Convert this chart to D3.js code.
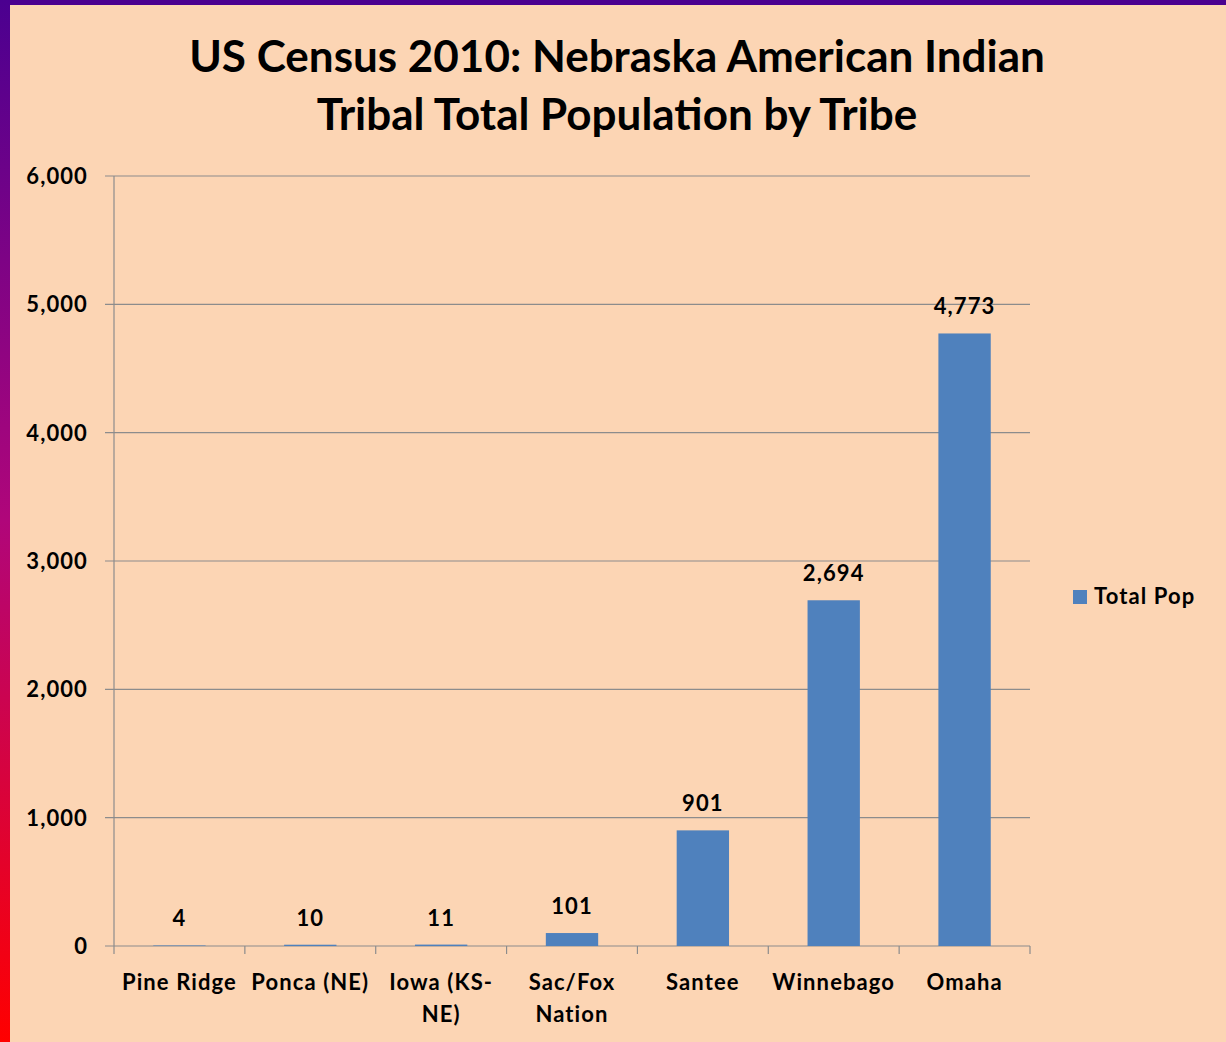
<!DOCTYPE html>
<html>
<head>
<meta charset="utf-8">
<script src="https://cdn.jsdelivr.net/npm/d3@7"></script>
<style>
  html, body { margin: 0; padding: 0; background: #fcd5b4; }
  svg { display: block; font-family: Lato, "Open Sans", sans-serif; font-weight: 700; }
  .small { font-size: 22px; letter-spacing: 1.1px; }
</style>
</head>
<body>
<svg id="chart" width="1226" height="1042"></svg>
<script>
// data
var tribes = ["Pine Ridge", "Ponca (NE)", "Iowa (KS-NE)", "Sac/Fox Nation", "Santee", "Winnebago", "Omaha"];
var tribeLines = [["Pine Ridge"], ["Ponca (NE)"], ["Iowa (KS-", "NE)"], ["Sac/Fox", "Nation"], ["Santee"], ["Winnebago"], ["Omaha"]];
var totalPop = [4, 10, 11, 101, 901, 2694, 4773];
var yTicks = [0, 1000, 2000, 3000, 4000, 5000, 6000];
var titleLines = ["US Census 2010: Nebraska American Indian", "Tribal Total Population by Tribe"];
var seriesName = "Total Pop";

function drawChart() {
  var width = 1226, height = 1042;
  var mLeft = 114, mRight = 1030, mTop = 176, mBottom = 946;
  var svg = d3.select("#chart");

  // frame: gradient strip on the left, purple strip on top
  var defs = svg.append("defs");
  var grad = defs.append("linearGradient").attr("id", "edge")
    .attr("x1", 0).attr("y1", 0).attr("x2", 0).attr("y2", 1);
  grad.append("stop").attr("offset", "0%").attr("stop-color", "#4b0090");
  grad.append("stop").attr("offset", "50%").attr("stop-color", "#b0067a");
  grad.append("stop").attr("offset", "100%").attr("stop-color", "#ff0000");

  svg.append("rect").attr("x", 0).attr("y", 0).attr("width", width).attr("height", height).attr("fill", "#fcd5b4");
  svg.append("rect").attr("x", 0).attr("y", 0).attr("width", width).attr("height", 5).attr("fill", "#4b0090");
  svg.append("rect").attr("x", 0).attr("y", 0).attr("width", 10).attr("height", height).attr("fill", "url(#edge)");

  var x = d3.scaleBand().domain(tribes).range([mLeft, mRight]).paddingInner(0.6).paddingOuter(0.3);
  var xb = d3.scaleBand().domain(tribes).range([mLeft, mRight]);
  var y = d3.scaleLinear().domain([0, 6000]).range([mBottom, mTop]);

  // gridlines
  svg.append("g").selectAll("line").data(yTicks).enter().append("line")
    .attr("x1", mLeft - 9).attr("x2", mRight)
    .attr("y1", function(d) { return y(d); }).attr("y2", function(d) { return y(d); })
    .attr("stroke", "#8c8c8c").attr("stroke-width", 1.2);

  // y axis line
  svg.append("line").attr("x1", mLeft).attr("x2", mLeft).attr("y1", mTop).attr("y2", mBottom)
    .attr("stroke", "#8c8c8c").attr("stroke-width", 1.2);

  // y tick labels
  svg.append("g").selectAll("text").data(yTicks).enter().append("text")
    .attr("class", "small")
    .attr("x", 88).attr("y", function(d) { return y(d) + 8; })
    .attr("text-anchor", "end").attr("fill", "#000")
    .text(function(d) { return d3.format(",")(d); });

  // x tick marks at category boundaries
  var bounds = tribes.map(function(t) { return xb(t); }).concat([mRight]);
  svg.append("g").selectAll("line").data(bounds).enter().append("line")
    .attr("x1", function(d) { return d; }).attr("x2", function(d) { return d; })
    .attr("y1", mBottom).attr("y2", mBottom + 8)
    .attr("stroke", "#8c8c8c").attr("stroke-width", 1.2);

  // bars
  svg.append("g").selectAll("rect").data(totalPop).enter().append("rect")
    .attr("x", function(d, i) { return x(tribes[i]); })
    .attr("width", x.bandwidth())
    .attr("y", function(d) { return y(d); })
    .attr("height", function(d) { return mBottom - y(d); })
    .attr("fill", "#4f81bd");

  // value labels
  svg.append("g").selectAll("text").data(totalPop).enter().append("text")
    .attr("class", "small")
    .attr("x", function(d, i) { return x(tribes[i]) + x.bandwidth() / 2; })
    .attr("y", function(d) { return y(d) - 19; })
    .attr("text-anchor", "middle").attr("fill", "#000")
    .text(function(d) { return d3.format(",")(d); });

  // category labels
  var cat = svg.append("g").selectAll("text").data(tribes).enter().append("text")
    .attr("class", "small")
    .attr("y", 990)
    .attr("text-anchor", "middle").attr("fill", "#000");
  cat.selectAll("tspan").data(function(d, i) { return tribeLines[i].map(function(s) { return { t: d, s: s }; }); })
    .enter().append("tspan")
    .attr("x", function(d) { return xb(d.t) + xb.bandwidth() / 2; })
    .attr("dy", function(d, i) { return i === 0 ? 0 : 32; })
    .text(function(d) { return d.s; });

  // title
  svg.append("g").selectAll("text").data(titleLines).enter().append("text")
    .attr("x", 617).attr("y", function(d, i) { return 72 + i * 58; })
    .attr("text-anchor", "middle").attr("font-size", 44).attr("fill", "#000")
    .text(function(d) { return d; });

  // legend
  svg.append("rect").attr("x", 1073).attr("y", 590).attr("width", 14).attr("height", 14).attr("fill", "#4f81bd");
  svg.append("text").attr("class", "small").attr("x", 1094).attr("y", 604).attr("fill", "#000").text(seriesName);
}

drawChart();
</script>
</body>
</html>
